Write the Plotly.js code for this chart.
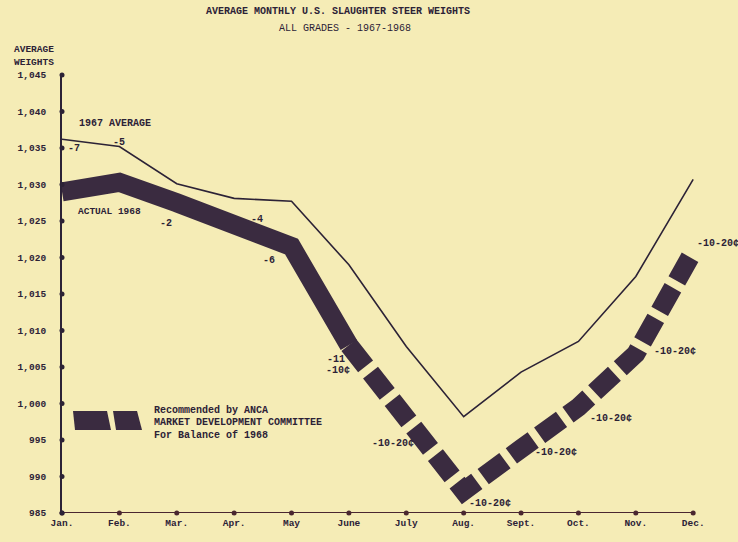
<!DOCTYPE html>
<html>
<head>
<meta charset="utf-8">
<script src="https://cdn.plot.ly/plotly-3.0.1.min.js"></script>
<style>
html,body{margin:0;padding:0;background:#f5ecb6;}
#chart{width:738px;height:542px;}
</style>
</head>
<body>
<div id="chart"></div>
<script>
// ---- data ----
var months = ['Jan.','Feb.','Mar.','Apr.','May','June','July','Aug.','Sept.','Oct.','Nov.','Dec.'];
var avg1967 = [1036.2, 1035.2, 1030.1, 1028.1, 1027.7, 1019.0, 1007.8, 998.2, 1004.3, 1008.5, 1017.4, 1030.7];
var actual1968 = [1029.0, 1030.3, 1027.5, 1024.4, 1021.5, 1008.0, null, null, null, null, null, null];
var recommended = [null, null, null, null, null, 1008.0, 998.0, 988.0, 993.8, 999.5, 1006.8, 1020.8];
var yTicks = [985, 990, 995, 1000, 1005, 1010, 1015, 1020, 1025, 1030, 1035, 1040, 1045];
var diffLabels1968 = ['-7', '-5', '-2', '-4', '-6', '-11'];
var recLabel = '-10-20\u00a2';

var idx = months.map(function(m, i){ return i; });

// ---- layout helpers (pixel -> paper) ----
var W = 738, H = 542;
var xMax = 11.45;                      // room on the right so the bands are not clipped
var step = (693 - 62) / 11;            // pixels per month
var M = {l: 62, t: 75, b: 29};
M.r = W - (62 + xMax * step);
var PW = W - M.l - M.r, PH = H - M.t - M.b;
function px(x){ return (x - M.l) / PW; }
function py(y){ return (H - M.b - y) / PH; }

var ink = '#2c2236';
var band = '#3a2b40';
var axisRed = '#4a2730';
var mono = '"Liberation Mono", "DejaVu Sans Mono", monospace';

var traces = [
  // x axis line with month dots
  {x: idx, y: idx.map(function(){ return yTicks[0]; }), mode: 'lines+markers',
   line: {color: axisRed, width: 2}, marker: {color: axisRed, size: 5}, cliponaxis: false},
  {x: idx, y: avg1967, mode: 'lines', line: {color: ink, width: 1.6}, cliponaxis: false},
  {x: idx, y: actual1968, mode: 'lines', line: {color: band, width: 19}, cliponaxis: false},
  {x: idx, y: recommended, mode: 'lines', line: {color: band, width: 19, dash: '27px,8px'}, cliponaxis: false},
  // y axis dots
  {x: yTicks.map(function(){ return 0; }), y: yTicks, mode: 'markers', marker: {color: ink, size: 5}, cliponaxis: false}
];

function ann(text, x, y, opts){
  var a = {text: text, xref: 'paper', yref: 'paper', x: px(x), y: py(y), showarrow: false,
           xanchor: 'left', yanchor: 'middle', font: {family: mono, size: 10, color: ink}};
  if (opts) for (var k in opts) a[k] = opts[k];
  return a;
}
var bold = {family: mono, size: 10, color: ink, weight: 'bold'};

var annotations = [
  ann('<b>AVERAGE MONTHLY U.S. SLAUGHTER STEER WEIGHTS</b>', 338, 11, {xanchor: 'center', font: {family: mono, size: 10, color: ink}}),
  ann('ALL GRADES - 1967-1968', 345, 28, {xanchor: 'center', font: {family: mono, size: 10, color: ink}}),
  ann('<b>AVERAGE</b>', 12, 49, {font: {family: mono, size: 9.5, color: ink}}),
  ann('<b>WEIGHTS</b>', 12, 62, {font: {family: mono, size: 9.5, color: ink}}),
  ann('<b>1967 AVERAGE</b>', 77, 123, {font: {family: mono, size: 10, color: ink}}),
  ann('<b>ACTUAL 1968</b>', 76, 212, {font: {family: mono, size: 9.5, color: ink}}),
  ann('<b>' + diffLabels1968[0] + '</b>', 66, 148, {font: bold}),
  ann('<b>' + diffLabels1968[1] + '</b>', 111, 142, {font: bold}),
  ann('<b>' + diffLabels1968[2] + '</b>', 158, 224, {font: bold}),
  ann('<b>' + diffLabels1968[3] + '</b>', 249, 219, {font: bold}),
  ann('<b>' + diffLabels1968[4] + '</b>', 261, 260, {font: bold}),
  ann('<b>' + diffLabels1968[5] + '</b>', 325, 359, {font: bold}),
  ann('<b>-10\u00a2</b>', 324, 370, {font: bold}),
  ann('<b>' + recLabel + '</b>', 370, 443, {font: bold}),
  ann('<b>' + recLabel + '</b>', 467, 503, {font: bold}),
  ann('<b>' + recLabel + '</b>', 533, 452, {font: bold}),
  ann('<b>' + recLabel + '</b>', 588, 418, {font: bold}),
  ann('<b>' + recLabel + '</b>', 652, 351, {font: bold}),
  ann('<b>' + recLabel + '</b>', 695, 244, {font: bold}),
  ann('<b>Recommended by ANCA</b>', 152, 410, {font: {family: mono, size: 10, color: ink}}),
  ann('<b>MARKET DEVELOPMENT COMMITTEE</b>', 152, 422, {font: {family: mono, size: 10, color: ink}}),
  ann('<b>For Balance of 1968</b>', 152, 435, {font: {family: mono, size: 10, color: ink}})
];

function poly(pts){
  return 'M' + pts.map(function(p){ return px(p[0]) + ',' + py(p[1]); }).join(' L') + ' Z';
}
var shapes = [
  {type: 'path', xref: 'paper', yref: 'paper', path: poly([[73,411],[107,411],[111,430],[75,430]]), fillcolor: band, line: {width: 0}},
  {type: 'path', xref: 'paper', yref: 'paper', path: poly([[113,411],[137,411],[142,430],[116,430]]), fillcolor: band, line: {width: 0}}
];

var layout = {
  width: W, height: H,
  margin: M,
  paper_bgcolor: '#f5ecb6',
  plot_bgcolor: 'rgba(0,0,0,0)',
  showlegend: false,
  xaxis: {
    range: [0, xMax], showgrid: false, zeroline: false, showline: false,
    tickmode: 'array', tickvals: idx, ticktext: months, ticks: '',
    ticklabelstandoff: 2,
    tickfont: {family: mono, size: 9.5, color: ink, weight: 'bold'}
  },
  yaxis: {
    range: [985, 1045], showgrid: false, zeroline: false,
    showline: true, linecolor: ink, linewidth: 2,
    tickmode: 'array', tickvals: yTicks, ticks: '', tickformat: ',d',
    ticklabelstandoff: 12,
    tickfont: {family: mono, size: 9.5, color: ink, weight: 'bold'}
  },
  annotations: annotations,
  shapes: shapes
};

Plotly.newPlot('chart', traces, layout, {staticPlot: true, displayModeBar: false});
</script>
</body>
</html>
